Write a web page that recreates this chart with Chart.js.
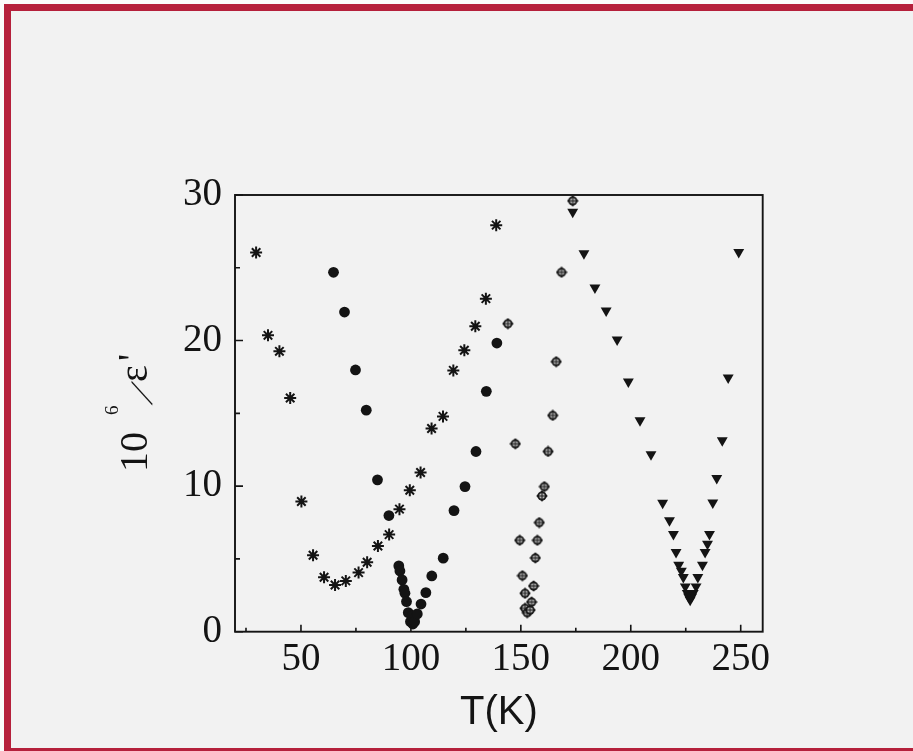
<!DOCTYPE html>
<html>
<head>
<meta charset="utf-8">
<title>Inverse permittivity vs temperature</title>
<script src="https://cdn.jsdelivr.net/npm/chart.js@4.4.1/dist/chart.umd.min.js"></script>
<style>
  html, body { margin: 0; padding: 0; background: #fafafa; }
  #page { position: relative; width: 913px; height: 751px; overflow: hidden; background: #fafafa; }
  #frame {
    position: absolute; left: 4px; top: 4px; width: 940px; height: 747px;
    box-sizing: border-box; background: #f2f2f2;
    border-left: 7px solid #b5203b; border-top: 7px solid #b5203b; border-bottom: 3px solid #b5203b;
  }
  #wrap { position: absolute; left: 0; top: 0; width: 913px; height: 751px; }
</style>
</head>
<body>
<div id="page">
  <div id="frame"></div>
  <div id="wrap"><canvas id="chart"></canvas></div>
</div>
<script>
// Temperature T (K) and 10^6/ε' for the four samples
const tStar = [29.6, 35.0, 40.2, 45.1, 50.2, 55.5, 60.5, 65.5, 70.4, 76.2, 80.1, 85.0, 90.1, 94.8, 99.5, 104.4, 109.4, 114.6, 119.3, 124.3, 129.3, 134.1, 138.8];
const invStar = [26.05, 20.36, 19.26, 16.05, 8.94, 5.25, 3.74, 3.21, 3.49, 4.06, 4.77, 5.89, 6.67, 8.42, 9.72, 10.94, 13.96, 14.79, 17.95, 19.33, 20.98, 22.88, 27.93];

const tDot = [64.8, 69.8, 74.8, 79.7, 84.8, 90.0, 94.5, 95.0, 96.0, 96.8, 97.3, 98.0, 98.8, 99.8, 100.6, 100.9, 101.7, 102.9, 104.6, 106.8, 109.5, 114.7, 119.6, 124.6, 129.6, 134.3, 139.1];
const invDot = [24.69, 21.96, 17.98, 15.22, 10.43, 7.98, 4.52, 4.17, 3.56, 2.91, 2.64, 2.07, 1.31, 0.69, 1.08, 0.53, 0.69, 1.22, 1.90, 2.68, 3.83, 5.05, 8.32, 9.97, 12.38, 16.51, 19.83];

const tCross = [144.1, 147.5, 149.5, 150.7, 151.9, 151.9, 152.9, 154.2, 154.9, 155.8, 156.6, 157.5, 158.4, 159.6, 160.7, 162.4, 164.5, 166.1, 168.5, 173.6];
const invCross = [21.16, 12.91, 6.28, 3.85, 2.64, 1.61, 1.31, 1.49, 2.04, 3.14, 5.07, 6.28, 7.50, 9.33, 9.97, 12.38, 14.86, 18.55, 24.69, 29.6];

const tTri = [173.6, 178.7, 183.7, 188.8, 193.8, 198.9, 204.2, 209.2, 214.5, 217.6, 219.4, 220.6, 221.8, 223.0, 223.9, 224.8, 225.7, 226.3, 227.0, 227.7, 228.4, 229.7, 230.5, 232.6, 233.8, 234.9, 235.8, 237.3, 239.1, 241.6, 244.3, 249.1];
const invTri = [28.84, 25.98, 23.64, 22.06, 20.06, 17.17, 14.51, 12.18, 8.85, 7.64, 6.70, 5.46, 4.59, 4.17, 3.74, 3.10, 2.64, 2.40, 2.18, 2.40, 2.64, 3.10, 3.74, 4.59, 5.46, 6.03, 6.70, 8.87, 10.55, 13.14, 17.45, 26.07];

// Axis ticks
const xMajorTicks = [50, 100, 150, 200, 250];
const xMinorTicks = [25, 75, 125, 175, 225];
const yMajorTicks = [0, 10, 20, 30];
const yMinorTicks = [5, 15, 25];

const pairs = (xs, ys) => xs.map((v, i) => ({ x: v, y: ys[i] }));
const INK = '#141414';

// Circle with a cross inside a dark diamond rim
function crossedMarker() {
  const c = document.createElement('canvas');
  c.width = 12; c.height = 12;
  const g = c.getContext('2d');
  const m = 6;
  g.fillStyle = '#1a1a1a';
  g.beginPath();
  g.moveTo(m, 0.2); g.lineTo(11.8, m); g.lineTo(m, 11.8); g.lineTo(0.2, m);
  g.closePath(); g.fill();
  g.beginPath(); g.arc(m, m, 4.6, 0, Math.PI * 2); g.fill();
  g.fillStyle = '#bdbdbd';
  g.beginPath(); g.arc(m, m, 2.8, 0, Math.PI * 2); g.fill();
  g.strokeStyle = '#1a1a1a'; g.lineWidth = 1;
  g.beginPath();
  g.moveTo(m, 2.5); g.lineTo(m, 9.5);
  g.moveTo(2.5, m); g.lineTo(9.5, m);
  g.stroke();
  return c;
}

// Frame, inward ticks and the rotated y title
const axesDecor = {
  id: 'axesDecor',
  afterDraw(chart) {
    const { ctx, chartArea: a, scales: { x, y } } = chart;
    ctx.save();
    ctx.strokeStyle = INK;
    ctx.lineWidth = 1.9;
    ctx.strokeRect(a.left, a.top, a.right - a.left, a.bottom - a.top);
    ctx.lineWidth = 1.6;
    ctx.beginPath();
    xMajorTicks.forEach(v => { const p = x.getPixelForValue(v); ctx.moveTo(p, a.bottom); ctx.lineTo(p, a.bottom - 7); });
    xMinorTicks.forEach(v => { const p = x.getPixelForValue(v); ctx.moveTo(p, a.bottom); ctx.lineTo(p, a.bottom - 4); });
    yMajorTicks.forEach(v => { const p = y.getPixelForValue(v); ctx.moveTo(a.left, p); ctx.lineTo(a.left + 8, p); });
    yMinorTicks.forEach(v => { const p = y.getPixelForValue(v); ctx.moveTo(a.left, p); ctx.lineTo(a.left + 5, p); });
    ctx.stroke();

    // 10^6 / ε'
    ctx.translate(147, 472);
    ctx.rotate(-Math.PI / 2);
    ctx.fillStyle = INK;
    ctx.textBaseline = 'alphabetic';
    ctx.textAlign = 'left';
    ctx.font = '40px "Liberation Serif"';
    ctx.fillText('10', 0, 0);
    ctx.font = '19px "Liberation Serif"';
    ctx.fillText('6', 57, -29);
    ctx.save();
    ctx.translate(67, 5);
    ctx.transform(1, 0, -0.75, 1, 0, 0);
    ctx.font = 'bold 31px "Liberation Serif"';
    ctx.fillText('/', 0, 0);
    ctx.restore();
    ctx.font = '40px "Liberation Serif"';
    ctx.fillText('ε', 90, 0);
    ctx.fillText("'", 111, -2);
    ctx.restore();
  }
};

new Chart(document.getElementById('chart'), {
  type: 'scatter',
  data: {
    datasets: [
      { label: 'A', data: pairs(tStar, invStar), pointStyle: 'star', pointRadius: 6, borderColor: INK, borderWidth: 2, backgroundColor: INK },
      { label: 'B', data: pairs(tDot, invDot), pointStyle: 'circle', pointRadius: 5.4, borderColor: INK, borderWidth: 0, backgroundColor: INK },
      { label: 'C', data: pairs(tCross, invCross), pointStyle: crossedMarker(), pointRadius: 6 },
      { label: 'D', data: pairs(tTri, invTri), pointStyle: 'triangle', rotation: 180, pointRadius: 6.3, borderWidth: 0, borderColor: INK, backgroundColor: INK }
    ]
  },
  options: {
    responsive: true,
    maintainAspectRatio: false,
    animation: false,
    devicePixelRatio: 1,
    layout: { padding: { left: 100, top: 195, right: 150.3, bottom: 0 } },
    plugins: { legend: { display: false }, tooltip: { enabled: false } },
    elements: { point: { hoverRadius: 6 } },
    scales: {
      x: {
        type: 'linear', min: 20, max: 260,
        afterBuildTicks: s => { s.ticks = xMajorTicks.map(v => ({ value: v })); },
        afterFit: s => { s.height = 119.3; },
        grid: { display: false },
        border: { display: false },
        ticks: { color: INK, padding: -3, font: { family: 'Liberation Serif', size: 39 } },
        title: { display: true, text: 'T(K)', color: INK, padding: { top: 0, bottom: 14 }, font: { family: 'Liberation Sans', size: 40 } }
      },
      y: {
        type: 'linear', min: 0, max: 30,
        afterBuildTicks: s => { s.ticks = yMajorTicks.map(v => ({ value: v })); },
        afterFit: s => { s.width = 135; },
        grid: { display: false },
        border: { display: false },
        ticks: { color: INK, padding: 5, font: { family: 'Liberation Serif', size: 39 } }
      }
    }
  },
  plugins: [axesDecor]
});
</script>
</body>
</html>
